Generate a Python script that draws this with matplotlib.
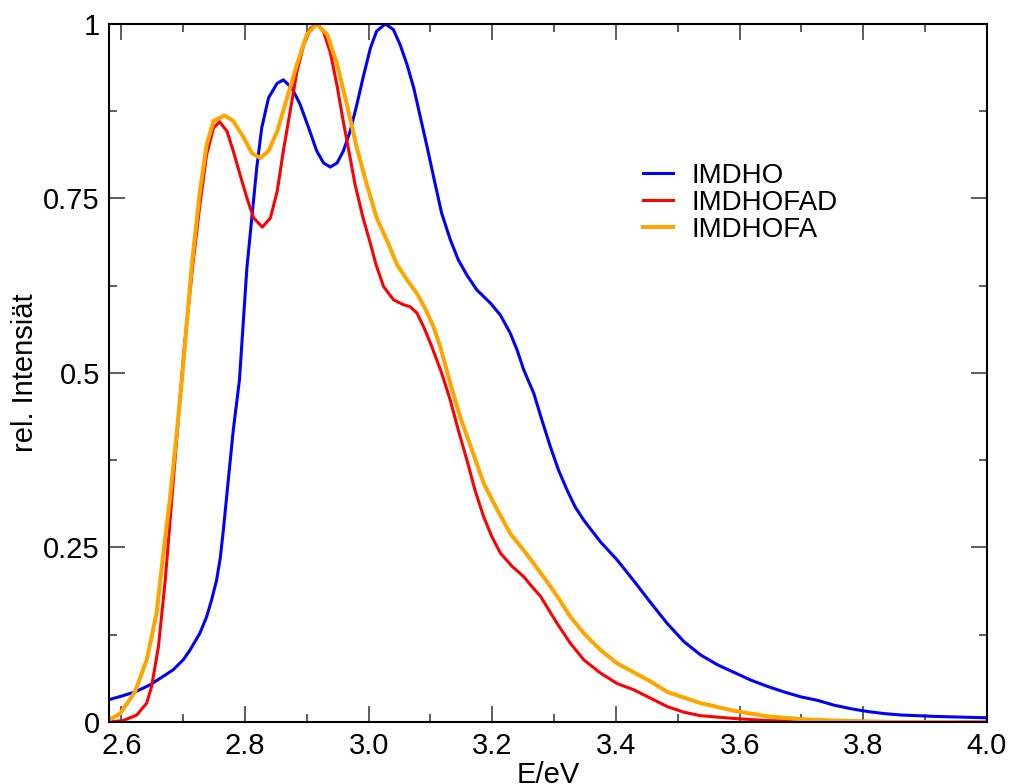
#!/usr/bin/env python3
# -*- coding: utf-8 -*-
"""Relative emission intensity of IMDHO, IMDHOFAD and IMDHOFA vs. photon energy."""

import matplotlib
matplotlib.use("Agg")
import matplotlib.pyplot as plt
from matplotlib.ticker import MultipleLocator, FixedLocator


# values (E in eV, relative intensity)
imdho_e = [2.580, 2.600, 2.622, 2.646, 2.674, 2.684, 2.700, 2.711, 2.727, 2.738,
           2.746, 2.754, 2.760, 2.765, 2.773, 2.781, 2.787, 2.791, 2.797, 2.803,
           2.811, 2.819, 2.827, 2.838, 2.852, 2.862, 2.876, 2.889, 2.903, 2.916,
           2.927, 2.938, 2.949, 2.959, 2.970, 2.981, 2.992, 3.003, 3.013, 3.027,
           3.040, 3.051, 3.062, 3.073, 3.084, 3.095, 3.105, 3.118, 3.132, 3.145,
           3.159, 3.175, 3.197, 3.213, 3.229, 3.240, 3.251, 3.267, 3.280, 3.294,
           3.307, 3.321, 3.334, 3.348, 3.375, 3.402, 3.429, 3.456, 3.483, 3.510,
           3.537, 3.564, 3.591, 3.618, 3.645, 3.672, 3.699, 3.726, 3.753, 3.780,
           3.807, 3.834, 3.861, 3.915, 4.000]
imdho_i = [0.032, 0.037, 0.043, 0.053, 0.069, 0.075, 0.089, 0.103, 0.127, 0.151,
           0.175, 0.203, 0.235, 0.275, 0.347, 0.418, 0.461, 0.490, 0.570, 0.650,
           0.722, 0.794, 0.851, 0.894, 0.915, 0.920, 0.908, 0.885, 0.851, 0.818,
           0.801, 0.795, 0.801, 0.818, 0.846, 0.885, 0.927, 0.966, 0.990, 1.000,
           0.992, 0.970, 0.942, 0.908, 0.865, 0.822, 0.781, 0.729, 0.691, 0.662,
           0.640, 0.619, 0.600, 0.583, 0.557, 0.533, 0.504, 0.471, 0.433, 0.394,
           0.361, 0.332, 0.308, 0.289, 0.258, 0.232, 0.202, 0.171, 0.141, 0.115,
           0.096, 0.082, 0.071, 0.060, 0.051, 0.043, 0.036, 0.031, 0.024, 0.019,
           0.015, 0.012, 0.010, 0.008, 0.006]

imdhofad_e = [2.580, 2.603, 2.625, 2.641, 2.649, 2.660, 2.671, 2.682, 2.692, 2.702,
              2.716, 2.727, 2.738, 2.749, 2.759, 2.771, 2.781, 2.792, 2.803, 2.814,
              2.828, 2.841, 2.852, 2.862, 2.873, 2.884, 2.895, 2.906, 2.916, 2.927,
              2.938, 2.949, 2.959, 2.968, 2.978, 2.991, 3.002, 3.012, 3.024, 3.040,
              3.056, 3.067, 3.078, 3.089, 3.102, 3.118, 3.132, 3.145, 3.159, 3.172,
              3.186, 3.199, 3.213, 3.232, 3.251, 3.264, 3.278, 3.291, 3.305, 3.326,
              3.348, 3.375, 3.402, 3.429, 3.456, 3.483, 3.510, 3.537, 3.591, 3.645,
              3.700, 3.800, 4.000]
imdhofad_i = [0.000, 0.002, 0.010, 0.027, 0.051, 0.108, 0.203, 0.323, 0.433, 0.540,
              0.658, 0.741, 0.813, 0.851, 0.860, 0.846, 0.818, 0.784, 0.751, 0.722,
              0.709, 0.722, 0.760, 0.818, 0.875, 0.932, 0.970, 0.994, 1.000, 0.989,
              0.959, 0.911, 0.860, 0.818, 0.770, 0.722, 0.688, 0.655, 0.624, 0.605,
              0.598, 0.595, 0.586, 0.566, 0.538, 0.500, 0.461, 0.418, 0.375, 0.332,
              0.294, 0.266, 0.242, 0.223, 0.208, 0.194, 0.180, 0.161, 0.141, 0.113,
              0.089, 0.070, 0.055, 0.046, 0.034, 0.022, 0.014, 0.009, 0.005, 0.002,
              0.001, 0.000, 0.000]

imdhofa_e = [2.580, 2.598, 2.622, 2.641, 2.657, 2.668, 2.679, 2.690, 2.698, 2.714,
             2.727, 2.738, 2.749, 2.767, 2.781, 2.798, 2.811, 2.825, 2.838, 2.852,
             2.868, 2.884, 2.900, 2.916, 2.933, 2.949, 2.965, 2.981, 2.997, 3.013,
             3.030, 3.046, 3.064, 3.078, 3.091, 3.105, 3.116, 3.132, 3.148, 3.167,
             3.186, 3.208, 3.229, 3.248, 3.267, 3.286, 3.305, 3.326, 3.348, 3.375,
             3.402, 3.429, 3.456, 3.483, 3.537, 3.591, 3.645, 3.699, 3.753, 3.850,
             3.950]
imdhofa_i = [0.003, 0.012, 0.043, 0.089, 0.156, 0.242, 0.323, 0.418, 0.490, 0.655,
             0.760, 0.827, 0.861, 0.869, 0.861, 0.837, 0.815, 0.808, 0.818, 0.846,
             0.894, 0.942, 0.985, 1.000, 0.985, 0.942, 0.884, 0.822, 0.770, 0.722,
             0.689, 0.655, 0.631, 0.614, 0.593, 0.566, 0.537, 0.485, 0.437, 0.390,
             0.342, 0.304, 0.270, 0.249, 0.227, 0.204, 0.180, 0.151, 0.127, 0.103,
             0.084, 0.071, 0.058, 0.043, 0.027, 0.016, 0.008, 0.004, 0.002, 0.000,
             0.000]

y_ticks = [0, 0.25, 0.5, 0.75, 1]
y_tick_labels = ["0", "0.25", "0.5", "0.75", "1"]


def main() -> None:
    plt.rcParams["font.family"] = ["Liberation Sans", "DejaVu Sans"]

    fig = plt.figure(figsize=(10.10, 7.84), dpi=100)
    ax = fig.add_axes([0.1079, 0.0791, 0.8693, 0.8903])

    ax.plot(imdho_e, imdho_i, color="#0000ff", linewidth=2.2, label="IMDHO")
    ax.plot(imdhofad_e, imdhofad_i, color="#ff0000", linewidth=2.2, label="IMDHOFAD")
    ax.plot(imdhofa_e, imdhofa_i, color="#ffa500", linewidth=2.9, label="IMDHOFA")

    ax.set_xlim(2.58, 4.0)
    ax.set_ylim(0, 1)
    ax.xaxis.set_major_locator(MultipleLocator(0.2))
    ax.xaxis.set_minor_locator(MultipleLocator(0.1))
    ax.xaxis.set_major_formatter(plt.FuncFormatter(lambda v, p: f"{v:.1f}"))
    ax.yaxis.set_major_locator(FixedLocator(y_ticks))
    ax.set_yticklabels(y_tick_labels)
    ax.yaxis.set_minor_locator(MultipleLocator(0.125))

    ax.tick_params(which="both", direction="in", top=True, right=True,
                   color="#333333", width=1.1, labelsize=21)
    ax.tick_params(which="major", length=11.5)
    ax.tick_params(which="minor", length=5.8)
    ax.tick_params(axis="x", which="major", pad=7)
    ax.tick_params(axis="y", which="major", pad=6.5)
    for spine in ax.spines.values():
        spine.set_linewidth(1.5)

    ax.set_xlabel("E/eV", fontsize=21, labelpad=1)
    ax.set_ylabel("rel. Intensiät", fontsize=21, labelpad=3)

    ax.legend(loc="upper left", bbox_to_anchor=(0.608, 0.801), frameon=False,
              fontsize=20, borderpad=0, borderaxespad=0, labelspacing=0.04,
              handlelength=1.1, handletextpad=0.65)

    fig.savefig("out.png", dpi=100)
    plt.close(fig)


if __name__ == "__main__":
    main()
